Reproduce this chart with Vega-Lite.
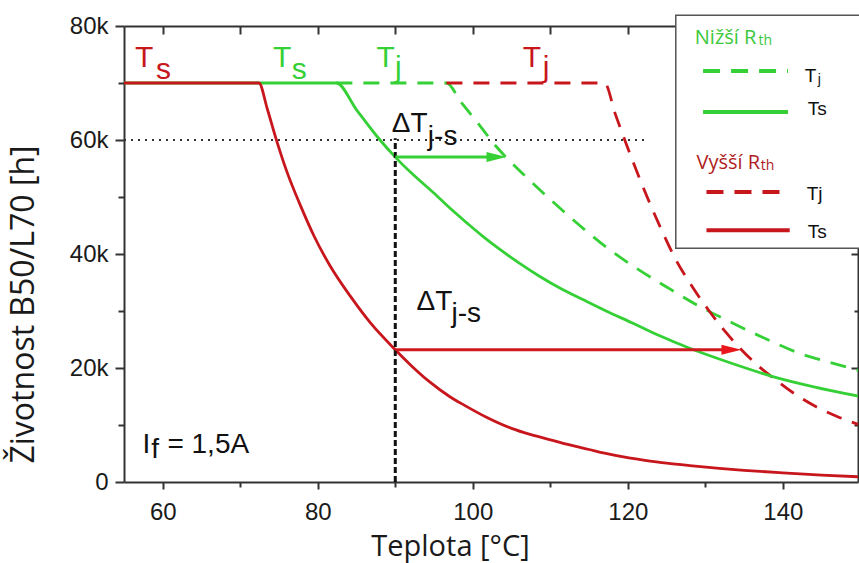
{
"$schema": "https://vega.github.io/schema/vega-lite/v6.json",
"width": 734,
"height": 456,
"autosize": {"type": "none"},
"padding": {"left": 124, "top": 26, "right": 1, "bottom": 81},
"background": "white",
"config": {
  "view": {"stroke": null},
  "axis": {"grid": false, "labelFont": "Liberation Sans", "labelFontSize": 24, "labelColor": "#1a1a1a", "domainColor": "#333333", "domainWidth": 2, "tickColor": "#333333", "tickWidth": 2, "titleFont": "Open Sans", "titleFontSize": 29, "titleFontWeight": "normal", "titleColor": "#1a1a1a", "labelOverlap": false, "labelFlush": false}
},
"datasets": {
  "curves": [
    {"s": "rTs", "t": 55, "h": 70000}, {"s": "rTs", "t": 72.4, "h": 70000}, {"s": "rTs", "t": 73.5, "h": 65400}, {"s": "rTs", "t": 74.6, "h": 60300}, {"s": "rTs", "t": 76.0, "h": 54500}, {"s": "rTs", "t": 77.8, "h": 48400}, {"s": "rTs", "t": 79.5, "h": 43200}, {"s": "rTs", "t": 81.6, "h": 37900}, {"s": "rTs", "t": 84.2, "h": 32600}, {"s": "rTs", "t": 86.8, "h": 27900}, {"s": "rTs", "t": 90, "h": 23200}, {"s": "rTs", "t": 92, "h": 20500}, {"s": "rTs", "t": 94.4, "h": 17600}, {"s": "rTs", "t": 97, "h": 15000}, {"s": "rTs", "t": 99, "h": 13400}, {"s": "rTs", "t": 101.7, "h": 11400}, {"s": "rTs", "t": 105, "h": 9400}, {"s": "rTs", "t": 107.5, "h": 8300}, {"s": "rTs", "t": 110.3, "h": 7300}, {"s": "rTs", "t": 112.5, "h": 6500}, {"s": "rTs", "t": 115, "h": 5700}, {"s": "rTs", "t": 117, "h": 5050}, {"s": "rTs", "t": 119.8, "h": 4300}, {"s": "rTs", "t": 122, "h": 3850}, {"s": "rTs", "t": 125, "h": 3300}, {"s": "rTs", "t": 128, "h": 2870}, {"s": "rTs", "t": 131.8, "h": 2400}, {"s": "rTs", "t": 135, "h": 2050}, {"s": "rTs", "t": 140, "h": 1600}, {"s": "rTs", "t": 145, "h": 1200}, {"s": "rTs", "t": 150, "h": 900},
    {"s": "gTs", "t": 55, "h": 70000}, {"s": "gTs", "t": 82.4, "h": 70000}, {"s": "gTs", "t": 85, "h": 65300}, {"s": "gTs", "t": 87.6, "h": 60700}, {"s": "gTs", "t": 90, "h": 57000}, {"s": "gTs", "t": 92.4, "h": 53800}, {"s": "gTs", "t": 94.9, "h": 50800}, {"s": "gTs", "t": 97, "h": 48100}, {"s": "gTs", "t": 99.2, "h": 45500}, {"s": "gTs", "t": 101.3, "h": 43100}, {"s": "gTs", "t": 103.5, "h": 40800}, {"s": "gTs", "t": 106, "h": 38400}, {"s": "gTs", "t": 108.6, "h": 36100}, {"s": "gTs", "t": 111.4, "h": 33900}, {"s": "gTs", "t": 114.2, "h": 32000}, {"s": "gTs", "t": 117.2, "h": 30000}, {"s": "gTs", "t": 120.6, "h": 27900}, {"s": "gTs", "t": 124.2, "h": 25600}, {"s": "gTs", "t": 127.9, "h": 23500}, {"s": "gTs", "t": 133, "h": 21000}, {"s": "gTs", "t": 138.7, "h": 18500}, {"s": "gTs", "t": 144, "h": 16700}, {"s": "gTs", "t": 150, "h": 15000},
    {"s": "gTj", "t": 82.4, "h": 70000}, {"s": "gTj", "t": 96.6, "h": 70000}, {"s": "gTj", "t": 98.5, "h": 66600}, {"s": "gTj", "t": 100.4, "h": 63400}, {"s": "gTj", "t": 103, "h": 58900}, {"s": "gTj", "t": 106.9, "h": 53500}, {"s": "gTj", "t": 110.3, "h": 49200}, {"s": "gTj", "t": 113.8, "h": 45000}, {"s": "gTj", "t": 117.6, "h": 40800}, {"s": "gTj", "t": 121, "h": 37600}, {"s": "gTj", "t": 124.9, "h": 34300}, {"s": "gTj", "t": 129, "h": 31000}, {"s": "gTj", "t": 133.5, "h": 27900}, {"s": "gTj", "t": 138, "h": 25000}, {"s": "gTj", "t": 142.1, "h": 22600}, {"s": "gTj", "t": 146, "h": 21000}, {"s": "gTj", "t": 150, "h": 19500},
    {"s": "rTj", "t": 96.6, "h": 70000}, {"s": "rTj", "t": 117, "h": 70000}, {"s": "rTj", "t": 118.4, "h": 64500}, {"s": "rTj", "t": 119.8, "h": 59300}, {"s": "rTj", "t": 122.5, "h": 50000}, {"s": "rTj", "t": 124.5, "h": 43800}, {"s": "rTj", "t": 126.2, "h": 39000}, {"s": "rTj", "t": 128.3, "h": 34300}, {"s": "rTj", "t": 130.5, "h": 30000}, {"s": "rTj", "t": 132.5, "h": 26500}, {"s": "rTj", "t": 134.6, "h": 23300}, {"s": "rTj", "t": 136.8, "h": 20400}, {"s": "rTj", "t": 139.1, "h": 17900}, {"s": "rTj", "t": 141.6, "h": 15400}, {"s": "rTj", "t": 144.3, "h": 13200}, {"s": "rTj", "t": 147, "h": 11500}, {"s": "rTj", "t": 150, "h": 10000}
  ],
  "refs": [
    {"k": "dot", "t": 55, "t2": 122.4, "h": 60000, "h2": 60000},
    {"k": "vdash", "t": 90, "t2": 90, "h": 0, "h2": 60300},
    {"k": "garrow", "t": 90, "t2": 102.5, "h": 57000, "h2": 57000},
    {"k": "rarrow", "t": 90, "t2": 132.8, "h": 23200, "h2": 23200}
  ],
  "heads": [
    {"k": "g", "t": 104.35, "h": 57000},
    {"k": "r", "t": 134.66, "h": 23200}
  ],
  "labels": [
    {"k": "rl", "t": 56.42, "h": 72800, "txt": "T"}, {"k": "rl", "t": 59.13, "h": 70770, "txt": "s"},
    {"k": "rl", "t": 106.46, "h": 72800, "txt": "T"}, {"k": "rl", "t": 109.04, "h": 71000, "txt": "j"},
    {"k": "gl", "t": 74.22, "h": 72800, "txt": "T"}, {"k": "gl", "t": 76.63, "h": 70770, "txt": "s"},
    {"k": "gl", "t": 87.59, "h": 72800, "txt": "T"}, {"k": "gl", "t": 89.95, "h": 71000, "txt": "j"},
    {"k": "bl", "t": 89.56, "h": 61400, "txt": "ΔT"}, {"k": "bl", "t": 94.2, "h": 59070, "txt": "j-s"},
    {"k": "bl", "t": 92.75, "h": 30120, "txt": "ΔT"}, {"k": "bl", "t": 97.26, "h": 28070, "txt": "j-s"},
    {"k": "bl", "t": 57.4, "h": 5140, "txt": "I"}, {"k": "bl", "t": 58.5, "h": 4250, "txt": "f"}, {"k": "bl", "t": 60.6, "h": 5140, "txt": "= 1,5A"},
    {"k": "lhg", "t": 128.64, "h": 76900, "txt": "Nižší R"}, {"k": "lhr", "t": 128.86, "h": 54980, "txt": "Vyšší R"},
    {"k": "lsg", "t": 136.85, "h": 76600, "txt": "th"}, {"k": "lsr", "t": 137.15, "h": 54700, "txt": "th"},
    {"k": "lt", "t": 142.83, "h": 70100, "txt": "T"}, {"k": "ls", "t": 144.51, "h": 69900, "txt": "j"},
    {"k": "lt", "t": 143.22, "h": 64330, "txt": "Ts"}, {"k": "lt", "t": 143.09, "h": 49420, "txt": "Tj"}, {"k": "lt", "t": 143.22, "h": 42880, "txt": "Ts"}
  ],
  "legendbox": [
    {"t": 126.19, "t2": 152, "h": 41000, "h2": 81880}
  ],
  "legendlines": [
    {"k": "gd", "t": 129.71, "t2": 140.67, "h": 72110},
    {"k": "gs", "t": 129.71, "t2": 140.67, "h": 64910},
    {"k": "rd", "t": 130.15, "t2": 140.89, "h": 50880},
    {"k": "rs", "t": 130.15, "t2": 140.89, "h": 44160}
  ]
},
"encoding": {
  "x": {"field": "t", "type": "quantitative", "scale": {"domain": [55, 149.7], "nice": false, "zero": false}, "axis": null},
  "y": {"field": "h", "type": "quantitative", "scale": {"domain": [0, 80000], "nice": false, "zero": false}, "axis": null}
},
"layer": [
  {"data": {"name": "curves"}, "transform": [{"filter": "datum.s == 'gTj'"}],
   "mark": {"type": "line", "color": "#35D035", "strokeWidth": 2.8, "strokeDash": [16, 11], "interpolate": "monotone", "clip": true}},
  {"data": {"name": "curves"}, "transform": [{"filter": "datum.s == 'rTj'"}],
   "mark": {"type": "line", "color": "#C8161D", "strokeWidth": 2.8, "strokeDash": [16, 11], "interpolate": "monotone", "clip": true}},
  {"data": {"name": "curves"}, "transform": [{"filter": "datum.s == 'gTs'"}],
   "mark": {"type": "line", "color": "#35D035", "strokeWidth": 2.8, "interpolate": "monotone", "clip": true},
   "encoding": {
     "x": {"field": "t", "type": "quantitative", "scale": {"domain": [55, 149.7], "nice": false, "zero": false},
           "axis": {"orient": "top", "values": [60, 70, 80, 90, 100, 110, 120, 130, 140], "labels": false, "tickSize": -8, "title": null}},
     "y": {"field": "h", "type": "quantitative", "scale": {"domain": [0, 80000], "nice": false, "zero": false},
           "axis": {"orient": "right", "values": [10000, 20000, 30000, 40000, 50000, 60000, 70000], "labels": false, "title": null,
                    "tickSize": {"condition": {"test": "datum.value % 20000 == 0", "value": -7}, "value": -4}}}
   }},
  {"data": {"name": "curves"}, "transform": [{"filter": "datum.s == 'rTs'"}],
   "mark": {"type": "line", "color": "#C8161D", "strokeWidth": 2.8, "interpolate": "monotone", "clip": true},
   "encoding": {
     "x": {"field": "t", "type": "quantitative", "scale": {"domain": [55, 149.7], "nice": false, "zero": false},
           "axis": {"orient": "bottom", "values": [60, 70, 80, 90, 100, 110, 120, 130, 140],
                    "labelExpr": "datum.value % 20 == 0 ? datum.label : ''",
                    "tickSize": {"condition": {"test": "datum.value % 20 == 0", "value": 7}, "value": 5},
                    "labelPadding": 11, "title": "Teplota [°C]", "titleX": 326, "titleY": 73, "titleAlign": "center", "titleBaseline": "alphabetic"}},
     "y": {"field": "h", "type": "quantitative", "scale": {"domain": [0, 80000], "nice": false, "zero": false},
           "axis": {"orient": "left", "values": [0, 10000, 20000, 30000, 40000, 50000, 60000, 70000, 80000],
                    "labelExpr": "datum.value % 20000 == 0 ? (datum.value == 0 ? '0' : (datum.value / 1000) + 'k') : ''",
                    "tickSize": {"condition": {"test": "datum.value % 20000 == 0", "value": 9}, "value": 6},
                    "labelPadding": 7, "title": "Životnost B50/L70 [h]", "titleX": -101, "titleY": 278, "titleAngle": 270,
                    "titleAlign": "center", "titleBaseline": "middle", "titleFontSize": 32}}
   }},
  {"data": {"name": "refs"}, "transform": [{"filter": "datum.k == 'dot'"}],
   "mark": {"type": "rule", "color": "#333333", "strokeWidth": 2, "strokeDash": [2, 5]},
   "encoding": {"x2": {"field": "t2"}}},
  {"data": {"name": "refs"}, "transform": [{"filter": "datum.k == 'vdash'"}],
   "mark": {"type": "rule", "color": "#111111", "strokeWidth": 3, "strokeDash": [6, 3]},
   "encoding": {"y2": {"field": "h2"}}},
  {"data": {"name": "refs"}, "transform": [{"filter": "datum.k == 'garrow'"}],
   "mark": {"type": "rule", "color": "#35D035", "strokeWidth": 3},
   "encoding": {"x2": {"field": "t2"}}},
  {"data": {"name": "refs"}, "transform": [{"filter": "datum.k == 'rarrow'"}],
   "mark": {"type": "rule", "color": "#D11A1F", "strokeWidth": 3},
   "encoding": {"x2": {"field": "t2"}}},
  {"data": {"name": "heads"}, "transform": [{"filter": "datum.k == 'g'"}],
   "mark": {"type": "point", "shape": "M-2,-0.5L0,0L-2,0.5Z", "size": 400, "filled": true, "color": "#35D035", "opacity": 1, "strokeWidth": 0}},
  {"data": {"name": "heads"}, "transform": [{"filter": "datum.k == 'r'"}],
   "mark": {"type": "point", "shape": "M-2,-0.5L0,0L-2,0.5Z", "size": 400, "filled": true, "color": "#E8161B", "opacity": 1, "strokeWidth": 0}},
  {"data": {"name": "labels"}, "transform": [{"filter": "datum.k == 'rl'"}],
   "mark": {"type": "text", "align": "left", "baseline": "alphabetic", "font": "Liberation Sans", "fontSize": 30, "color": "#C8161D"},
   "encoding": {"text": {"field": "txt"}}},
  {"data": {"name": "labels"}, "transform": [{"filter": "datum.k == 'gl'"}],
   "mark": {"type": "text", "align": "left", "baseline": "alphabetic", "font": "Liberation Sans", "fontSize": 30, "color": "#35D035"},
   "encoding": {"text": {"field": "txt"}}},
  {"data": {"name": "labels"}, "transform": [{"filter": "datum.k == 'bl'"}],
   "mark": {"type": "text", "align": "left", "baseline": "alphabetic", "font": "Liberation Sans", "fontSize": 28, "color": "#111111"},
   "encoding": {"text": {"field": "txt"}}},
  {"data": {"name": "legendbox"},
   "mark": {"type": "rect", "fill": "white", "stroke": "#555555", "strokeWidth": 1.5},
   "encoding": {"x2": {"field": "t2"}, "y2": {"field": "h2"}}},
  {"data": {"name": "legendlines"}, "transform": [{"filter": "datum.k == 'gd'"}],
   "mark": {"type": "rule", "color": "#35D035", "strokeWidth": 4, "strokeDash": [17, 11]},
   "encoding": {"x2": {"field": "t2"}}},
  {"data": {"name": "legendlines"}, "transform": [{"filter": "datum.k == 'gs'"}],
   "mark": {"type": "rule", "color": "#35D035", "strokeWidth": 4},
   "encoding": {"x2": {"field": "t2"}}},
  {"data": {"name": "legendlines"}, "transform": [{"filter": "datum.k == 'rd'"}],
   "mark": {"type": "rule", "color": "#C8161D", "strokeWidth": 4, "strokeDash": [17, 11]},
   "encoding": {"x2": {"field": "t2"}}},
  {"data": {"name": "legendlines"}, "transform": [{"filter": "datum.k == 'rs'"}],
   "mark": {"type": "rule", "color": "#C8161D", "strokeWidth": 4},
   "encoding": {"x2": {"field": "t2"}}},
  {"data": {"name": "labels"}, "transform": [{"filter": "datum.k == 'lhg'"}],
   "mark": {"type": "text", "align": "left", "baseline": "alphabetic", "font": "Open Sans", "fontSize": 20, "color": "#3CC83C"},
   "encoding": {"text": {"field": "txt"}}},
  {"data": {"name": "labels"}, "transform": [{"filter": "datum.k == 'lsg'"}],
   "mark": {"type": "text", "align": "left", "baseline": "alphabetic", "font": "Open Sans", "fontSize": 14, "color": "#3CC83C"},
   "encoding": {"text": {"field": "txt"}}},
  {"data": {"name": "labels"}, "transform": [{"filter": "datum.k == 'lhr'"}],
   "mark": {"type": "text", "align": "left", "baseline": "alphabetic", "font": "Open Sans", "fontSize": 20, "color": "#B01C22"},
   "encoding": {"text": {"field": "txt"}}},
  {"data": {"name": "labels"}, "transform": [{"filter": "datum.k == 'lsr'"}],
   "mark": {"type": "text", "align": "left", "baseline": "alphabetic", "font": "Open Sans", "fontSize": 14, "color": "#B01C22"},
   "encoding": {"text": {"field": "txt"}}},
  {"data": {"name": "labels"}, "transform": [{"filter": "datum.k == 'lt'"}],
   "mark": {"type": "text", "align": "left", "baseline": "alphabetic", "font": "Liberation Sans", "fontSize": 19, "color": "#111111"},
   "encoding": {"text": {"field": "txt"}}},
  {"data": {"name": "labels"}, "transform": [{"filter": "datum.k == 'ls'"}],
   "mark": {"type": "text", "align": "left", "baseline": "alphabetic", "font": "Liberation Sans", "fontSize": 14, "color": "#111111"},
   "encoding": {"text": {"field": "txt"}}}
],
"resolve": {"axis": {"x": "independent", "y": "independent"}}
}
